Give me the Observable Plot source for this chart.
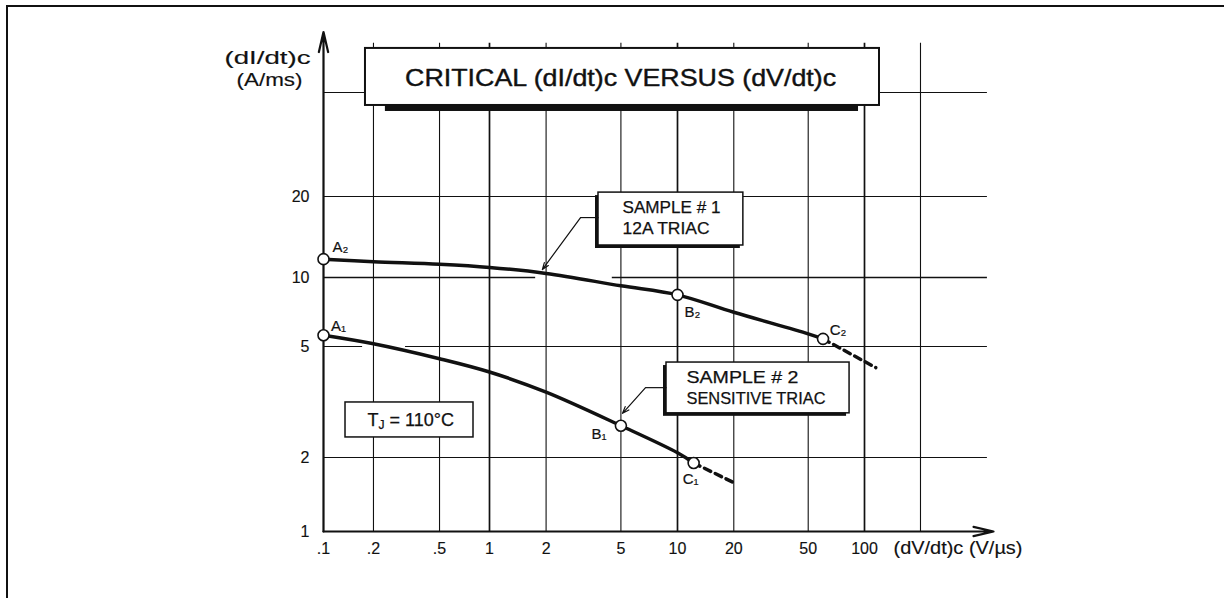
<!DOCTYPE html>
<html><head><meta charset="utf-8">
<script src="https://cdn.jsdelivr.net/npm/d3@7"></script>
<script src="https://cdn.jsdelivr.net/npm/@observablehq/plot@0.6"></script>
<style>
html,body{margin:0;padding:0;background:#fff;}
#chart{position:relative;width:1224px;height:598px;overflow:hidden;}
#chart svg{display:block;}
#edge{position:absolute;left:6px;top:5px;width:1300px;height:700px;border-top:2px solid #111;border-left:2px solid #111;pointer-events:none;}
</style></head><body><div id="chart"></div>
<script>
// ---- axes ----
const xTicks = [0.1, 0.2, 0.5, 1, 2, 5, 10, 20, 50, 100];
const xTickLabels = [".1", ".2", ".5", "1", "2", "5", "10", "20", "50", "100"];
const xGrid = [0.2, 0.5, 1, 2, 5, 10, 20, 50, 100, 200];
const yTicks = [1, 2, 5, 10, 20];
const yTickLabels = ["1", "2", "5", "10", "20"];
const yGrid = [2, 5, 10, 20, 50];

// ---- sample #1 : 12A triac ----
const sample1X = [0.1, 0.2, 0.5, 1, 2, 5, 10, 20, 50, 60];
const sample1Y = [11.7, 11.45, 11.2, 10.9, 10.35, 9.2, 8.4, 7.05, 5.68, 5.4];
const sample1DashX = [60, 115];
const sample1DashY = [5.4, 4.2];

// ---- sample #2 : sensitive triac ----
const sample2X = [0.1, 0.2, 0.5, 1, 2, 5, 10, 12.2];
const sample2Y = [5.6, 5.14, 4.52, 4.05, 3.43, 2.6, 2.08, 1.9];
const sample2DashX = [12.2, 20];
const sample2DashY = [1.9, 1.58];

// ---- marked points ----
const pointNames = ["A2", "B2", "C2", "A1", "B1", "C1"];
const pointLabels = ["A₂", "B₂", "C₂", "A₁", "B₁", "C₁"];
const pointX = [0.1, 10, 60, 0.1, 5, 12.2];
const pointY = [11.7, 8.4, 5.4, 5.6, 2.6, 1.9];

// ---- texts ----
const titleText = "CRITICAL (dI/dt)c VERSUS (dV/dt)c";
const yLabelLines = ["(dI/dt)c", "(A/ms)"];
const xLabelText = "(dV/dt)c (V/µs)";
const sample1Lines = ["SAMPLE # 1", "12A TRIAC"];
const sample2Lines = ["SAMPLE # 2", "SENSITIVE TRIAC"];
const tjParts = ["T", "J", "= 110°C"];

// annotation anchors (data units)
const titleBox = {x1: 0.179, x2: 120.4, y1: 44.6, y2: 73.6};
const titleShadow = {x1: 0.236, x2: 92.9, y1: 42.3, y2: 44.6};
const sample1Box = {x1: 3.8, x2: 22.5, y1: 13.15, y2: 20.7};
const sample2Box = {x1: 8.74, x2: 83.2, y1: 2.88, y2: 4.38};
const tjBox = {x1: 0.1357, x2: 0.801, y1: 2.36, y2: 3.15};
const leader1 = {bx: 3.8, hx: 3.05, y: 16.7, tx: 1.91, ty: 10.7};
const leader2 = {bx: 8.74, hx: 6.76, y: 3.56, tx: 5.1, ty: 2.88};
const gridGaps = {10: [1.76, 4.5], 5: [0.172, 0.312]};
const xMin = 0.1, xGridEnd = 458, xAxisEnd = 494, yGridTop = 77, yAxisTop = 85;

// lettering widths (style)
const fitWidths = {
  "CRITICAL (dI/dt)c VERSUS (dV/dt)c": 431, "(dI/dt)c": 86, "(A/ms)": 66, "(dV/dt)c (V/µs)": 129,
  "SAMPLE # 1": 98, "12A TRIAC": 87, "SAMPLE # 2": 112, "SENSITIVE TRIAC": 139
};

const rows = (xs, ys) => xs.map((x, i) => ({x, y: ys[i]}));
const s1 = rows(sample1X, sample1Y), s1d = rows(sample1DashX, sample1DashY);
const s2 = rows(sample2X, sample2Y), s2d = rows(sample2DashX, sample2DashY);
const pts = pointNames.map((n, i) => ({name: n, label: pointLabels[i], x: pointX[i], y: pointY[i]}));

const hSegs = [];
for (const y of yGrid) {
  const g = gridGaps[y];
  if (g) { hSegs.push({y, x1: xMin, x2: g[0]}); hSegs.push({y, x1: g[1], x2: xGridEnd}); }
  else hSegs.push({y, x1: xMin, x2: xGridEnd});
}
const isDecade = v => Math.abs(Math.log10(v) - Math.round(Math.log10(v))) < 1e-9;

const ink = "#111";
const bold = {fill: ink, stroke: ink, strokeWidth: 0.25};
const labelOffsets = {A2: [17, -12], A1: [15, -9], B2: [15, 17], B1: [-22, 8], C2: [15, -9], C1: [-3, 16]};

const boxMarks = (b, shadow) => [
  ...(shadow ? [Plot.rect([b], {x1: "x1", x2: "x2", y1: "y1", y2: "y2", fill: ink, dx: -3, dy: 3})] : []),
  Plot.rect([b], {x1: "x1", x2: "x2", y1: "y1", y2: "y2", fill: "white", stroke: ink, strokeWidth: 1.5})
];
const note = (txt, x, y, o) => Plot.text([txt], {x: () => x, y: () => y, text: d => d, ...bold, ...o});

const chart = Plot.plot({
  width: 1224, height: 598,
  marginLeft: 0, marginRight: 0, marginTop: 0, marginBottom: 0,
  x: {type: "log", domain: [0.1, 1, 10, 100, 1000], range: [323, 489, 677, 864, 1050], axis: null},
  y: {type: "log", domain: [1, 2, 5, 10, 20, 50, 100], range: [531, 457, 346, 277, 196, 92, 13], axis: null},
  style: {fontFamily: "'Liberation Sans', Arial, sans-serif", background: "white", color: ink},
  marks: [
    // grid
    Plot.ruleX(xGrid, {x: d => d, y1: 1, y2: yGridTop, stroke: ink, strokeWidth: d => isDecade(d) ? 1.7 : 1.1}),
    Plot.ruleY(hSegs, {y: "y", x1: "x1", x2: "x2", stroke: ink, strokeWidth: d => isDecade(d.y) ? 1.7 : 1.1}),
    // axes
    Plot.arrow([{x1: xMin, y1: 1, x2: xAxisEnd, y2: 1}], {x1: "x1", y1: "y1", x2: "x2", y2: "y2", stroke: ink, strokeWidth: 2.2, headLength: 14, headAngle: 26}),
    Plot.arrow([{x1: xMin, y1: 1, x2: xMin, y2: yAxisTop}], {x1: "x1", y1: "y1", x2: "x2", y2: "y2", stroke: ink, strokeWidth: 2.2, headLength: 14, headAngle: 26}),
    // tick labels
    Plot.text(xTicks, {x: d => d, y: () => 1, text: (d, i) => xTickLabels[i], dy: 17, fontSize: 16, ...bold, strokeWidth: 0.15}),
    Plot.text(yTicks, {x: () => xMin, y: d => d, text: (d, i) => yTickLabels[i], dx: -14, textAnchor: "end", fontSize: 16, ...bold, strokeWidth: 0.15}),
    note(xLabelText, 100, 1, {dx: 29, dy: 17, textAnchor: "start", fontSize: 18, strokeWidth: 0.15}),
    note(yLabelLines[0], xMin, 67.4, {dx: -56, fontSize: 18, strokeWidth: 0.15}),
    note(yLabelLines[1], xMin, 55.6, {dx: -54, fontSize: 18, strokeWidth: 0.15}),
    // title box
    Plot.rect([titleShadow], {x1: "x1", x2: "x2", y1: "y1", y2: "y2", fill: ink}),
    Plot.rect([titleBox], {x1: "x1", x2: "x2", y1: "y1", y2: "y2", fill: "white", stroke: ink, strokeWidth: 2}),
    note(titleText, 4.98, 56.5, {fontSize: 24, strokeWidth: 0.4}),
    // sample boxes
    ...boxMarks(sample1Box, true),
    note(sample1Lines[0], 5.1, 18.2, {textAnchor: "start", fontSize: 16.5}),
    note(sample1Lines[1], 5.1, 15.2, {textAnchor: "start", fontSize: 16.5}),
    ...boxMarks(sample2Box, true),
    note(sample2Lines[0], 11.17, 3.87, {textAnchor: "start", fontSize: 16.5}),
    note(sample2Lines[1], 11.17, 3.26, {textAnchor: "start", fontSize: 16.5}),
    ...boxMarks(tjBox, false),
    note(tjParts[0], 0.3296, 2.72, {dx: -42, textAnchor: "start", fontSize: 18}),
    note(tjParts[1], 0.3296, 2.72, {dx: -31, dy: 5, textAnchor: "start", fontSize: 12}),
    note(tjParts[2], 0.3296, 2.72, {dx: -20, textAnchor: "start", fontSize: 18}),
    // leaders
    Plot.link([leader1], {x1: "bx", x2: "hx", y1: "y", y2: "y", stroke: ink, strokeWidth: 1.2}),
    Plot.arrow([leader1], {x1: "hx", y1: "y", x2: "tx", y2: "ty", stroke: ink, strokeWidth: 1.2, headLength: 9, headAngle: 40}),
    Plot.link([leader2], {x1: "bx", x2: "hx", y1: "y", y2: "y", stroke: ink, strokeWidth: 1.2}),
    Plot.arrow([leader2], {x1: "hx", y1: "y", x2: "tx", y2: "ty", stroke: ink, strokeWidth: 1.2, headLength: 9, headAngle: 40}),
    // curves
    Plot.line(s1, {x: "x", y: "y", curve: "catmull-rom", stroke: ink, strokeWidth: 3.5}),
    Plot.line(s1d, {x: "x", y: "y", stroke: ink, strokeWidth: 3.5, strokeDasharray: "7,5"}),
    Plot.line(s2, {x: "x", y: "y", curve: "catmull-rom", stroke: ink, strokeWidth: 3.5}),
    Plot.line(s2d, {x: "x", y: "y", stroke: ink, strokeWidth: 3.5, strokeDasharray: "7,5"}),
    Plot.dot(pts, {x: "x", y: "y", r: 5.5, fill: "white", stroke: ink, strokeWidth: 1.6}),
    ...pts.map(p => Plot.text([p], {x: "x", y: "y", text: "label", dx: labelOffsets[p.name][0], dy: labelOffsets[p.name][1], fontSize: 15, ...bold, strokeWidth: 0.2}))
  ]
});
d3.select(chart).selectAll("text").each(function () {
  const w = fitWidths[this.textContent];
  if (w) { this.setAttribute("textLength", w); this.setAttribute("lengthAdjust", "spacingAndGlyphs"); }
});
const host = document.getElementById("chart");
host.appendChild(chart);
const edge = document.createElement("div");
edge.id = "edge";
host.appendChild(edge);
</script>
</body></html>
